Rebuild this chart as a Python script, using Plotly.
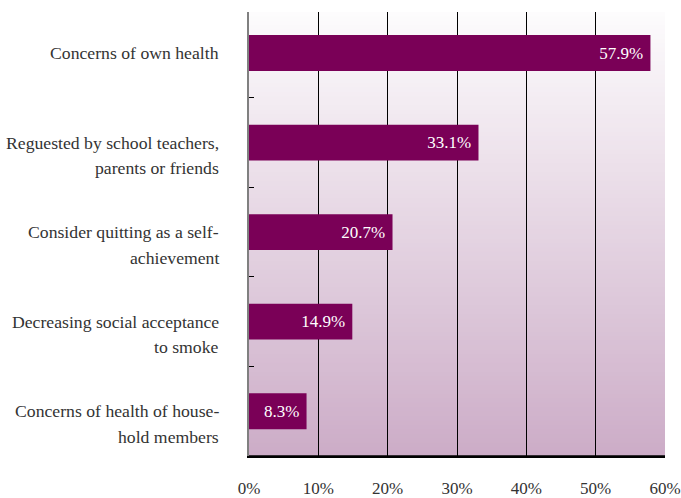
import plotly.graph_objects as go

categories = [
    "Concerns of own health",
    "Reguested by school teachers,<br>parents or friends",
    "Consider quitting as a self-<br>achievement",
    "Decreasing social acceptance<br>to smoke",
    "Concerns of health of house-<br>hold members",
]
values = [57.9, 33.1, 20.7, 14.9, 8.3]
tick_vals = [0, 10, 20, 30, 40, 50, 60]
tick_text = ["0%", "10%", "20%", "30%", "40%", "50%", "60%"]

FONT = "Liberation Serif"
BAR = "#7a0057"

fig = go.Figure()
fig.add_trace(go.Bar(
    x=values, y=categories, orientation="h",
    marker=dict(color=BAR, line=dict(width=0)),
    texttemplate="%{x:.1f}%\u00a0", textposition="inside", insidetextanchor="end",
    textfont=dict(family=FONT, size=17, color="white"),
    hoverinfo="skip",
))

# gradient background strips (overlapping to avoid seams)
shapes = []
N = 100
top = (253, 252, 253)
bot = (204, 172, 199)
for i in range(N):
    t = (i + 0.5) / N  # 0 top -> 1 bottom
    c = tuple(round(top[k] + (bot[k] - top[k]) * t) for k in range(3))
    shapes.append(dict(
        type="rect", xref="x domain", yref="y domain",
        x0=0, x1=1, y0=max(0, 1 - (i + 2) / N), y1=1 - i / N,
        fillcolor="rgb(%d,%d,%d)" % c, line=dict(width=0), layer="below",
    ))
# bottom axis line
shapes.append(dict(type="line", xref="x domain", yref="y domain",
                   x0=0, x1=1, y0=0, y1=0, line=dict(color="black", width=1.5),
                   layer="above"))

annotations = []
for cat in categories:
    lines = cat.split("<br>")
    for j, ln in enumerate(lines):
        annotations.append(dict(
            x=0, xref="paper", y=cat, yref="y", text=ln, showarrow=False,
            xanchor="right", yanchor="middle", xshift=-28, yshift=-25.5 * j,
            font=dict(family=FONT, size=17.7, color="#333333"),
        ))

fig.update_layout(
    width=681, height=498,
    margin=dict(l=249, r=16, t=12, b=42),
    paper_bgcolor="white", plot_bgcolor="rgba(0,0,0,0)",
    showlegend=False, bargap=0.6,
    shapes=shapes, annotations=annotations,
    font=dict(family=FONT, size=17, color="#333333"),
)
fig.update_xaxes(
    range=[0, 60], tickvals=tick_vals, ticktext=tick_text,
    showgrid=True, gridcolor="black", gridwidth=1,
    showline=True, linecolor="black", linewidth=1.5,
    zeroline=False, ticks="outside", ticklen=0, ticklabelstandoff=16, automargin=False,
    tickfont=dict(family=FONT, size=17, color="#333333"),
    fixedrange=True,
)
fig.update_yaxes(
    range=[4.5, -0.458], showticklabels=False, showgrid=False,
    showline=True, linecolor="#808080", linewidth=2, automargin=False,
    ticks="inside", tickson="boundaries", ticklen=5, tickcolor="black", tickwidth=1,
    zeroline=False, fixedrange=True,
)

fig.write_html("out.html")
